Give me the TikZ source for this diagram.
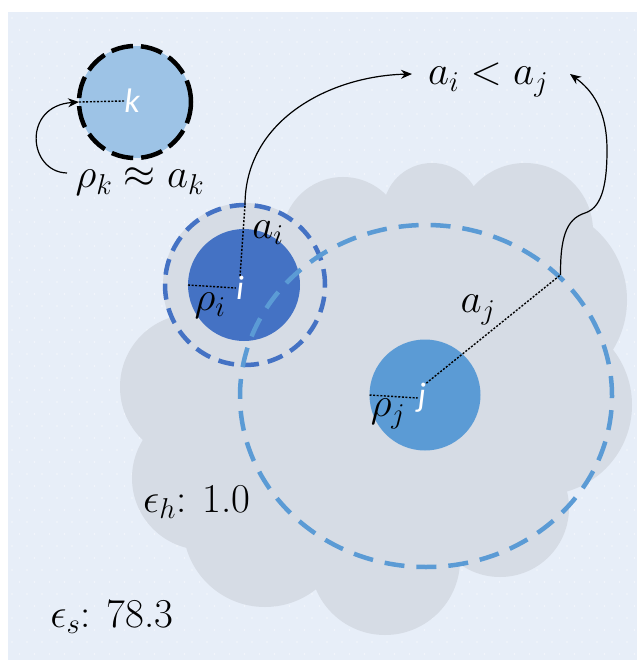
\documentclass[tikz,border=0pt]{standalone}
\usepackage{fix-cm}
\usepackage{fontspec}
\newfontfamily\calib{Carlito}
\usetikzlibrary{shapes.geometric,arrows.meta}
\definecolor{bgc}{HTML}{E7EEF8}
\definecolor{cloudc}{HTML}{D6DCE5}
\definecolor{kfill}{HTML}{9DC3E6}
\definecolor{ifill}{HTML}{4472C4}
\definecolor{jfill}{HTML}{5B9BD5}
\begin{document}
\begin{tikzpicture}[x=1pt,y=-1pt,
  ball/.style={circle, inner sep=0pt, outer sep=0pt},
  idx/.style={text=white, font=\calib\itshape\fontsize{34}{34}\selectfont, inner sep=0pt},
  lab/.style={font=\fontsize{41}{44}\selectfont, inner sep=0pt, text=black},
  rad/.style={line width=1.4pt, dash pattern=on 2pt off 1.6pt},
  arr/.style={line width=1.2pt, -{Stealth[length=11pt,width=9pt]}},
  puff/.style={fill=cloudc}]
\useasboundingbox (0,0) rectangle (637,660);
\fill[bgc] (8,12) rectangle (637,660);
\foreach \r in {0,...,54} {
  \foreach \c in {0,...,42} {
    \pgfmathsetmacro{\xx}{12+15*\c+7.5*mod(\r,2)}
    \fill[white, opacity=0.55] (\xx,{18+12*\r}) circle[radius=0.8pt];
  }
}
% cloud
\fill[puff] (245,285) circle[radius=82pt];
\fill[puff] (343,238) circle[radius=61pt];
\fill[puff] (432,212) circle[radius=49pt];
\fill[puff] (525,231) circle[radius=68pt];
\fill[puff] (532,300) circle[radius=95pt];
\fill[puff] (542,405) circle[radius=90pt];
\fill[puff] (500,508) circle[radius=69pt];
\fill[puff] (385,560) circle[radius=75pt];
\fill[puff] (265,525) circle[radius=82pt];
\fill[puff] (204,478) circle[radius=72pt];
\fill[puff] (193,387) circle[radius=73pt];
\fill[puff] (400,400) circle[radius=172pt];
% k
\node[ball, minimum size=112pt, fill=kfill, draw=black, line width=4.5pt, dash pattern=on 22pt off 8pt] (ck) at (135,102) {};
\node[idx] (lk) at (132,101) {k};
\draw[rad] (ck.west) -- (lk.west);
\node[lab] (rk) at (140,182) {$\rho_k \approx a_k$};
\coordinate (kstart) at (67,173);
\draw[arr] (kstart) .. controls (28,172) and (22,106) .. (ck.west);
% i
\node[ball, minimum size=112pt, fill=ifill] (ci) at (244,285) {};
\node[ball, minimum size=160pt, draw=ifill, line width=4.5pt, dash pattern=on 16pt off 9pt] (halo) at (245,285) {};
\node[idx] (li) at (240,288) {i};
\draw[rad] (ci.west) -- (li.west);
\draw[rad] (li.north) -- (halo.north);
\node[lab] (ai) at (268,233) {$a_i$};
\node[lab] (ri) at (210,306) {$\rho_i$};
% j
\node[ball, minimum size=111pt, fill=jfill] (cj) at (425,395) {};
\node[ellipse, inner sep=0pt, minimum width=372pt, minimum height=342pt, draw=jfill, line width=4.5pt, dash pattern=on 20pt off 12pt] (ej) at (426,396) {};
\node[idx] (lj) at (422,398) {j};
\coordinate (pj) at (ej.42);
\draw[rad] (cj.west) -- (lj.west);
\draw[rad] (lj.north east) -- (pj);
\node[lab] (aj) at (478,310) {$a_j$};
\node[lab] (rj) at (388,414) {$\rho_j$};
% text
\node[lab] (ineq) at (488,80) {$a_i < a_j$};
\node[lab] (eh) at (197,502) {$\epsilon_h$: 1.0};
\node[lab] (es) at (112,617) {$\epsilon_s$: 78.3};
% arrows
\coordinate (t1) at (412,74);
\coordinate (t2) at (570,74);
\draw[arr] (halo.north) .. controls (245,120) and (330,76) .. (t1);
\draw[arr] (pj) .. controls (560,230) and (570,218) .. (585,213) .. controls (600,208) and (607,190) .. (607,150) .. controls (607,110) and (592,90) .. (t2);
\end{tikzpicture}
\end{document}
